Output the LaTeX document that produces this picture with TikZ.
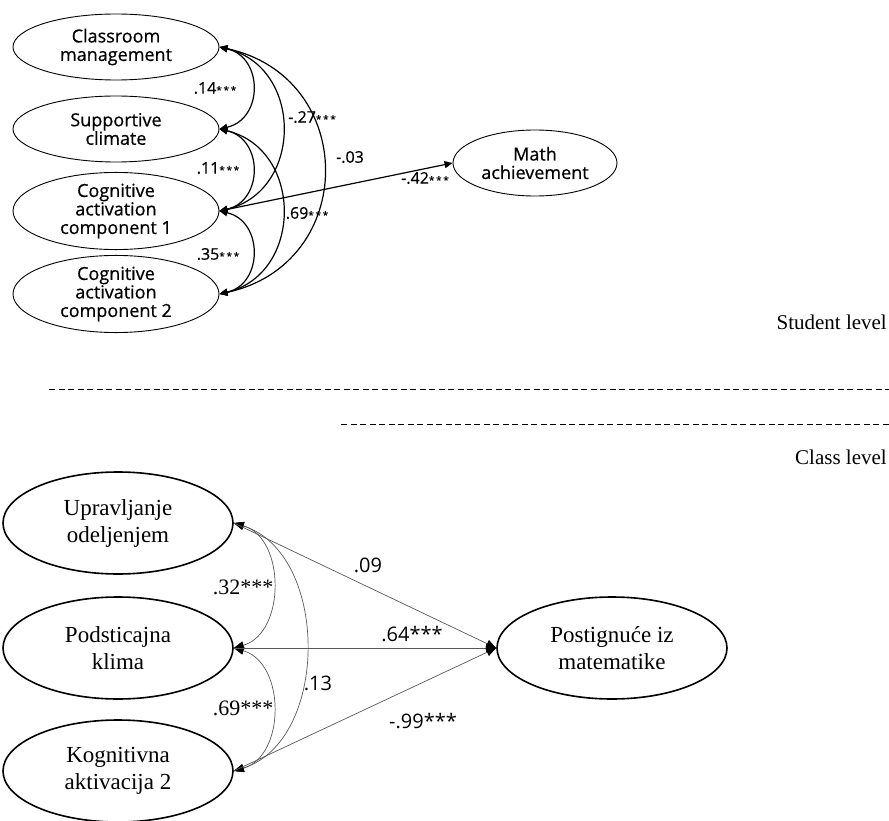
\documentclass[tikz,border=0pt]{standalone}
\usepackage{fontspec}
\setmainfont{Liberation Serif}
\newfontfamily\osans{Open Sans}
\newfontfamily\osansb[FakeBold=0.6]{Open Sans}
\usetikzlibrary{shapes.geometric,arrows.meta}
\newcommand{\tst}{{\fontsize{10}{10}\selectfont*\,*\,*}}
\begin{document}
\begin{tikzpicture}[x=1pt,y=-1pt,
  topell/.style={ellipse,draw,line width=0.9pt,minimum width=206pt,minimum height=66pt,inner sep=0pt,align=center,font=\osansb\fontsize{18}{18.5}\selectfont},
  botell/.style={ellipse,draw,line width=1.6pt,minimum width=230pt,minimum height=102pt,inner sep=0pt,align=center,font=\fontsize{23}{27}\selectfont},
  tcov/.style={line width=1.2pt,{Triangle[length=8pt,width=7pt]}-{Triangle[length=8pt,width=7pt]}},
  tpath/.style={line width=1.2pt,-{Triangle[length=8pt,width=7pt]}},
  bcov/.style={line width=0.7pt,draw=black!65,{Triangle[length=10pt,width=8pt,fill=black,color=black]}-{Triangle[length=10pt,width=8pt,fill=black,color=black]}},
  bpath/.style={line width=0.7pt,draw=black!65,-{Triangle[length=10pt,width=8pt,fill=black,color=black]}},
  tlab/.style={inner sep=0pt,font=\osansb\fontsize{16}{16}\selectfont},
  bslab/.style={inner sep=0pt,font=\fontsize{22}{22}\selectfont},
  bsanslab/.style={inner sep=0pt,font=\osans\fontsize{20}{20}\selectfont},
  levlab/.style={inner sep=0pt,anchor=base east,font=\fontsize{21}{21}\selectfont},
  dashln/.style={line width=1pt,dash pattern=on 6pt off 3.5pt}
]
\useasboundingbox (0,0) rectangle (889,821);

% ---------- Student level ----------
\node[topell] (cm)  at (116,47)  {Classroom\\management};
\node[topell] (sc)  at (116,129) {Supportive\\climate};
\node[topell] (ca1) at (116,211) {Cognitive\\activation\\component 1};
\node[topell] (ca2) at (116,294) {Cognitive\\activation\\component 2};
\node[topell,minimum width=164pt] (math) at (535,163) {Math\\achievement};

\draw[tcov] (cm.east) .. controls +(44,10) and +(44,-10) .. (sc.east);
\draw[tcov] (sc.east) .. controls +(44,10) and +(44,-10) .. (ca1.east);
\draw[tcov] (ca1.east) .. controls +(44,10) and +(44,-10) .. (ca2.east);
\draw[tcov] (cm.east) .. controls +(84,20) and +(84,-20) .. (ca1.east);
\draw[tcov] (sc.east) .. controls +(84,20) and +(84,-20) .. (ca2.east);
\draw[tcov] (cm.east) .. controls +(139,30) and +(139,-30) .. (ca2.east);
\draw[tpath] (ca1.east) -- (math.west);

\node[tlab] (l14) at (215,88)  {.14\tst};
\node[tlab] (l11) at (218,168) {.11\tst};
\node[tlab] (l35) at (218,254) {.35\tst};
\node[tlab] (l27) at (312,117) {-.27\tst};
\node[tlab] (l69a) at (307,213) {.69\tst};
\node[tlab] (l03) at (350,157) {-.03};
\node[tlab] (l42) at (425,178) {-.42\tst};

\node[levlab] (stud) at (887,329) {Student level};

% ---------- separators ----------
\coordinate (d1a) at (49,389);
\coordinate (d1b) at (889,389);
\coordinate (d2a) at (341,424);
\coordinate (d2b) at (889,424);
\draw[dashln] (d1a) -- (d1b);
\draw[dashln] (d2a) -- (d2b);

\node[levlab] (cls) at (887,464) {Class level};

% ---------- Class level ----------
\node[botell] (upr) at (118,523) {Upravljanje\\odeljenjem};
\node[botell] (pod) at (118,648) {Podsticajna\\klima};
\node[botell] (kog) at (118,771) {Kognitivna\\aktivacija 2};
\node[botell] (post) at (612,648) {Postignuće iz\\matematike};

\draw[bcov] (upr.east) .. controls +(52,15) and +(52,-15) .. (pod.east);
\draw[bcov] (pod.east) .. controls +(52,15) and +(52,-15) .. (kog.east);
\draw[bcov] (upr.east) .. controls +(96,30) and +(96,-30) .. (kog.east);
\draw[bpath] (upr.east) -- (post.west);
\draw[bpath] (pod.east) -- (post.west);
\draw[bpath] (kog.east) -- (post.west);

\node[bslab] (l32) at (243,587) {.32***};
\node[bslab] (l69b) at (243,708) {.69***};
\node[bsanslab] (l13) at (318,683) {.13};
\node[bsanslab] (l09) at (368,565) {.09};
\node[bsanslab] (l64) at (412,634) {.64***};
\node[bsanslab] (l99) at (423,721) {-.99***};
\end{tikzpicture}
\end{document}
